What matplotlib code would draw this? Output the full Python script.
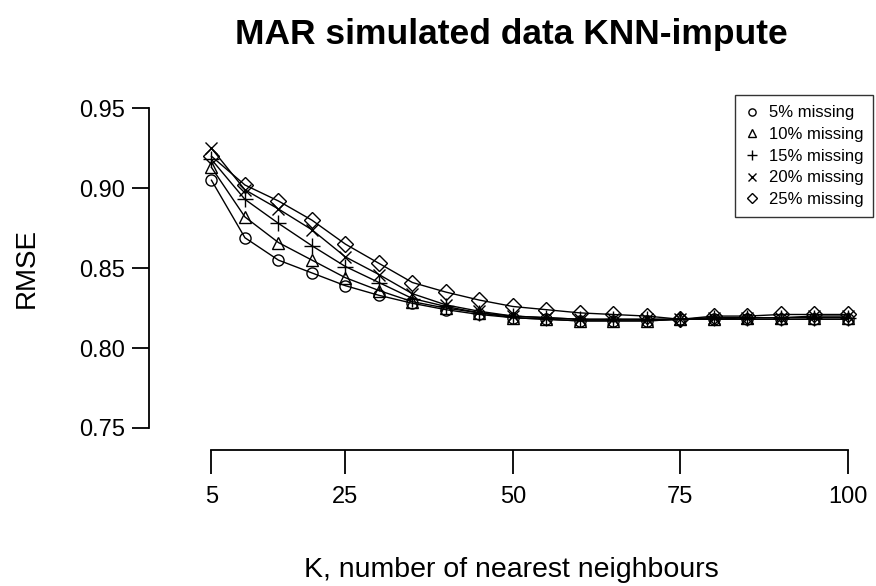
import matplotlib.pyplot as plt

plt.rcParams['font.family'] = ['Liberation Sans', 'DejaVu Sans']

# number of nearest neighbours
k_values = list(range(5, 105, 5))

# RMSE per missing-rate
rmse_5 = [0.905, 0.869, 0.855, 0.847, 0.839, 0.833, 0.828, 0.824, 0.821, 0.819,
          0.818, 0.817, 0.817, 0.817, 0.818, 0.818, 0.818, 0.818, 0.818, 0.818]
rmse_10 = [0.913, 0.882, 0.866, 0.855, 0.844, 0.836, 0.829, 0.825, 0.822, 0.819,
           0.818, 0.817, 0.817, 0.817, 0.818, 0.818, 0.819, 0.819, 0.819, 0.819]
rmse_15 = [0.918, 0.893, 0.878, 0.864, 0.851, 0.841, 0.831, 0.826, 0.822, 0.820,
           0.819, 0.818, 0.818, 0.818, 0.818, 0.819, 0.819, 0.819, 0.819, 0.819]
rmse_20 = [0.925, 0.899, 0.887, 0.874, 0.857, 0.846, 0.834, 0.827, 0.823, 0.820,
           0.819, 0.818, 0.818, 0.818, 0.818, 0.819, 0.819, 0.819, 0.820, 0.820]
rmse_25 = [0.920, 0.902, 0.892, 0.880, 0.865, 0.853, 0.841, 0.835, 0.830, 0.826,
           0.824, 0.822, 0.821, 0.820, 0.818, 0.820, 0.820, 0.821, 0.821, 0.821]

labels = ["5% missing", "10% missing", "15% missing", "20% missing", "25% missing"]
x_ticks = [5, 25, 50, 75, 100]
y_ticks = [0.75, 0.80, 0.85, 0.90, 0.95]

fig = plt.figure(figsize=(8.76, 5.86), dpi=100)
ax = fig.add_axes([0.2123, 0.2478, 0.7847, 0.5893])

# R-like pch symbols: 1 circle, 2 triangle, 3 plus, 4 cross, 5 diamond
styles = [("o", 8), ("^", 9), ("+", 12), ("x", 9), ("D", 8)]
series = [rmse_5, rmse_10, rmse_15, rmse_20, rmse_25]
for ys, (m, ms), lab in zip(series, styles, labels):
    ax.plot(k_values, ys, color="black", lw=1, marker=m, markersize=ms,
            markerfacecolor="none", markeredgecolor="black", markeredgewidth=1,
            label=lab)

ax.set_xlim(1.2, 103.8)
ax.set_ylim(0.742, 0.958)

for s in ["top", "right"]:
    ax.spines[s].set_visible(False)
ax.spines["left"].set_bounds(0.75, 0.95)
ax.spines["bottom"].set_bounds(5, 100)
ax.spines["left"].set_position(("outward", 26.5))
ax.spines["bottom"].set_position(("outward", 6.5))
ax.spines["left"].set_linewidth(1.3)
ax.spines["bottom"].set_linewidth(1.3)

ax.set_xticks(x_ticks)
ax.set_yticks(y_ticks)
ax.set_yticklabels(["%.2f" % v for v in y_ticks])
ax.tick_params(axis="x", length=17, width=1.3, pad=9, labelsize=17)
ax.tick_params(axis="y", length=12.5, width=1.3, pad=5, labelsize=17)

ax.set_xlabel("K, number of nearest neighbours", fontsize=20.5, labelpad=35, x=0.473)
ax.set_ylabel("RMSE", fontsize=20, labelpad=28)
ax.set_title("MAR simulated data KNN-impute", fontsize=25.5, fontweight="bold",
             pad=37, x=0.473)

leg = ax.legend(loc="upper right", fontsize=12, frameon=True, fancybox=False,
                edgecolor="black", handlelength=0.8, handletextpad=0.6,
                borderaxespad=0, labelspacing=0.4, borderpad=0.6,
                markerscale=0.65)
for h in leg.legend_handles:
    h.set_linestyle("none")
leg.get_frame().set_linewidth(1)

fig.savefig("out.png", dpi=100)
